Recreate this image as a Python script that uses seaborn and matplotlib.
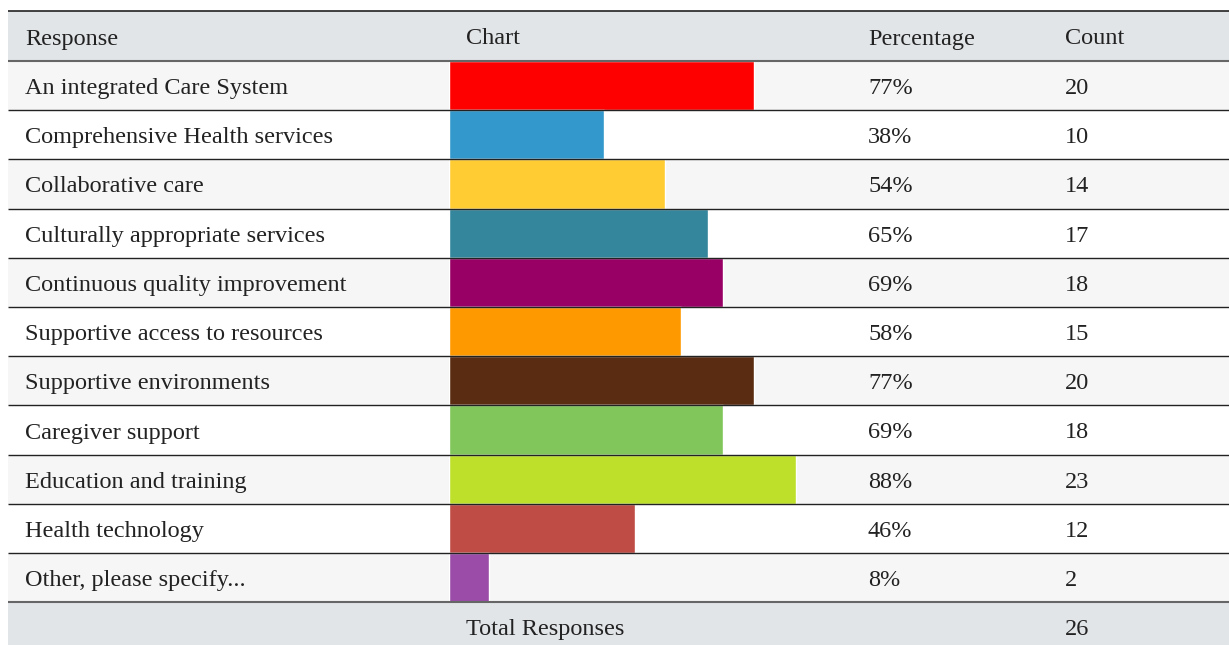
import matplotlib
matplotlib.use("Agg")
import matplotlib.pyplot as plt
import seaborn as sns
import pandas as pd

responses = [
    "An integrated Care System",
    "Comprehensive Health services",
    "Collaborative care",
    "Culturally appropriate services",
    "Continuous quality improvement",
    "Supportive access to resources",
    "Supportive environments",
    "Caregiver support",
    "Education and training",
    "Health technology",
    "Other, please specify...",
]
percentages = [77, 38, 54, 65, 69, 58, 77, 69, 88, 46, 8]
counts = [20, 10, 14, 17, 18, 15, 20, 18, 23, 12, 2]
total_responses = 26
bar_colors = ["#ff0000", "#3399cc", "#ffcc33", "#33869c", "#990066", "#ff9900",
              "#5a2d12", "#80c65a", "#bfe02b", "#bf4c45", "#9b4ca8"]

W, H = 1229, 645
left, right = 8, 1229
top, head_h = 11, 50
row_h = 49.2
n = len(responses)
body_top = top + head_h
body_bot = body_top + n * row_h
col_x = {"resp": 25, "chart": 466, "pct": 868, "count": 1065}
font = dict(family=["Liberation Serif", "DejaVu Serif"], fontsize=17.5, color="#222222")

sns.set_style("white")
plt.rcParams["font.family"] = ["Liberation Serif", "DejaVu Serif"]

fig = plt.figure(figsize=(W / 100, H / 100), dpi=100)
bg = fig.add_axes([0, 0, 1, 1])
bg.set_xlim(0, W)
bg.set_ylim(H, 0)
bg.axis("off")

# header and footer bands, alternating row shading
bg.add_patch(plt.Rectangle((left, top), right - left, head_h, color="#e2e5e8", lw=0))
bg.add_patch(plt.Rectangle((left, body_bot), right - left, H - body_bot, color="#e2e5e8", lw=0))
for i in range(n):
    shade = "#f6f6f6" if i % 2 == 0 else "#ffffff"
    bg.add_patch(plt.Rectangle((left, body_top + i * row_h), right - left, row_h, color=shade, lw=0))

# bars: zero sits a little right of the cell edge, bars get a small lead-in
df = pd.DataFrame({"Response": responses, "Percentage": percentages})
bar_x0 = 449
zero_x = 458
px_per_pct = 3.84
lead = (zero_x - bar_x0) / px_per_pct
ax = fig.add_axes([bar_x0 / W, (H - body_bot) / H, 110 * px_per_pct / W, (body_bot - body_top) / H])
sns.barplot(data=df, x="Percentage", y="Response", hue="Response", palette=bar_colors,
            orient="h", width=1.0, legend=False, ax=ax, saturation=1)
for p in ax.patches:
    p.set_width(p.get_width() + lead)
    p.set_x(-lead)
ax.set_xlim(-lead, 110 - lead)
ax.set_ylim(n - 0.5, -0.5)
ax.axis("off")
ax.patch.set_alpha(0)

# row lines and text on top
ov = fig.add_axes([0, 0, 1, 1])
ov.set_xlim(0, W)
ov.set_ylim(H, 0)
ov.axis("off")
ov.patch.set_alpha(0)
ov.hlines(top, left, right, color="#222222", lw=1.2)
ov.hlines(body_top, left, right, color="#666666", lw=1.5)
for i in range(1, n):
    ov.hlines(body_top + i * row_h, left, right, color="#222222", lw=1.0)
ov.hlines(body_bot, left, right, color="#666666", lw=1.5)

dy = 3
hy = top + head_h / 2 + dy
ov.text(col_x["resp"], hy, "Response", va="center", **font)
ov.text(col_x["chart"], hy, "Chart", va="center", **font)
ov.text(col_x["pct"], hy, "Percentage", va="center", **font)
ov.text(col_x["count"], hy, "Count", va="center", **font)

for i, (r, p, c) in enumerate(zip(responses, percentages, counts)):
    y = body_top + (i + 0.5) * row_h + dy
    ov.text(col_x["resp"], y, r, va="center", **font)
    ov.text(col_x["pct"], y, f"{p}%", va="center", **font)
    ov.text(col_x["count"], y, str(c), va="center", **font)

fy = (body_bot + H) / 2 + dy + 3
ov.text(col_x["chart"], fy, "Total Responses", va="center", **font)
ov.text(col_x["count"], fy, str(total_responses), va="center", **font)

fig.savefig("out.png", dpi=100)
